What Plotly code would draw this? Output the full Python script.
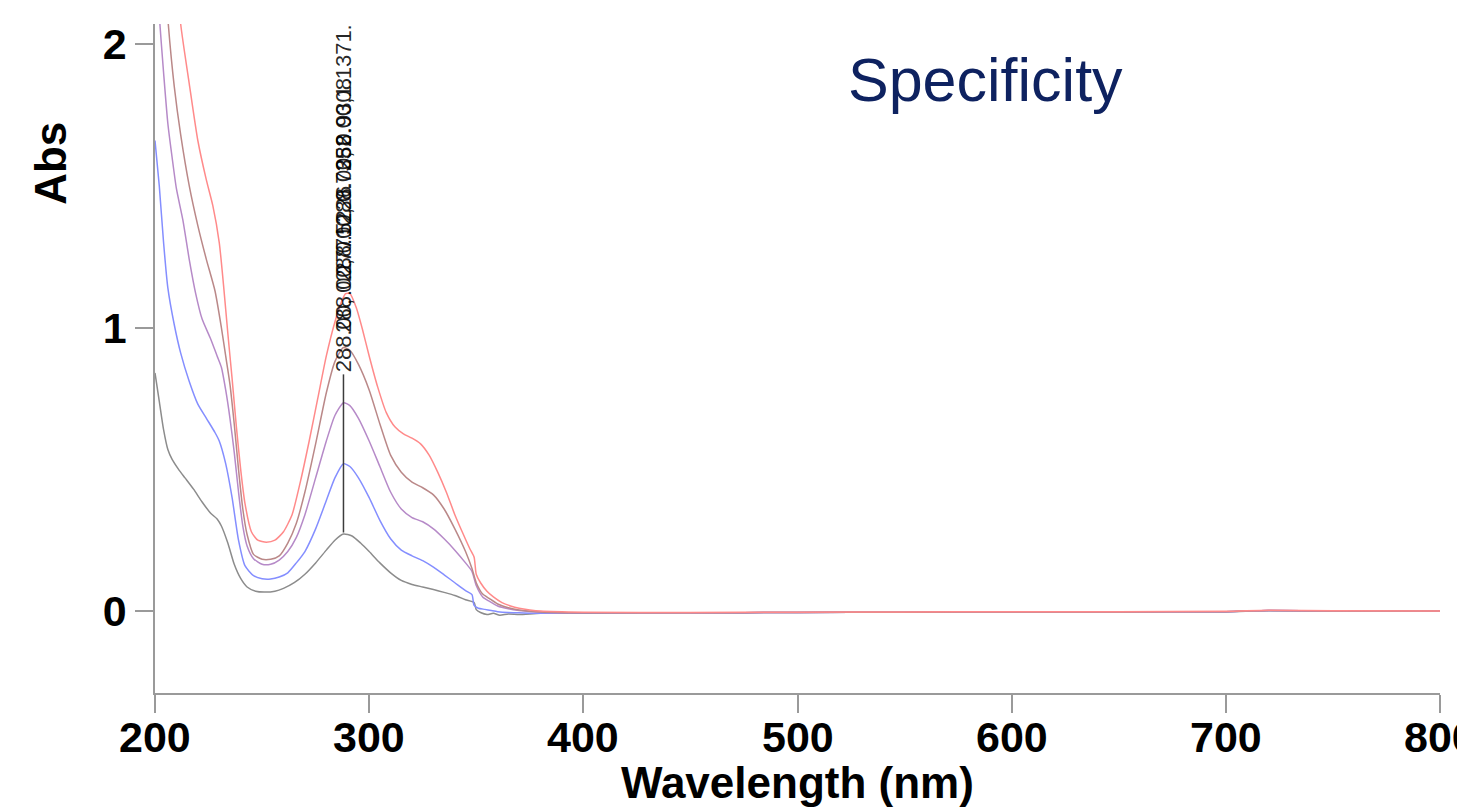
import plotly.graph_objects as go

# ---------------- data ----------------
grey_wl = [200, 202, 204, 206, 208, 211, 214, 218, 222, 226, 229, 231, 234, 237, 240, 243, 247, 251, 256, 260,
           265, 270, 275, 280, 284, 288, 292, 296, 300, 305, 310, 315, 320, 325, 330, 335, 340, 345, 349,
           350, 352, 355, 358, 361, 365, 370, 380, 400, 450, 500, 550, 600, 650, 700, 720, 750, 800]
grey_abs = [0.84, 0.74, 0.64, 0.57, 0.535, 0.50, 0.47, 0.43, 0.385, 0.345, 0.325, 0.30, 0.24, 0.165, 0.115, 0.085,
            0.07, 0.067, 0.07, 0.08, 0.10, 0.13, 0.17, 0.215, 0.25, 0.272, 0.265, 0.24, 0.21, 0.17, 0.135, 0.108,
            0.094, 0.085, 0.076, 0.066, 0.055, 0.040, 0.030, 0.005, -0.005, -0.012, -0.008, -0.015, -0.010,
            -0.012, -0.008, -0.008, -0.006, -0.005, -0.004, -0.003, -0.003, -0.002, 0.001, -0.001, 0.0]

blue_wl = [200, 202, 204, 206, 209, 212, 216, 220, 224, 228, 230, 233, 236, 239, 242, 246, 250, 254, 258, 262,
           266, 270, 275, 280, 284, 288, 291, 295, 300, 305, 310, 315, 320, 325, 330, 335, 340, 345, 348,
           349, 351, 354, 357, 360, 365, 370, 380, 400, 450, 500, 550, 600, 650, 700, 720, 750, 800]
blue_abs = [1.66, 1.50, 1.30, 1.14, 1.01, 0.91, 0.81, 0.73, 0.68, 0.63, 0.60, 0.52, 0.40, 0.25, 0.16, 0.125,
            0.114, 0.113, 0.12, 0.135, 0.17, 0.21, 0.29, 0.39, 0.47, 0.52, 0.51, 0.47, 0.40, 0.32, 0.255, 0.215,
            0.195, 0.178, 0.155, 0.128, 0.100, 0.072, 0.058, 0.020, 0.010, 0.006, 0.002, -0.002, -0.005,
            -0.006, -0.008, -0.006, -0.006, -0.005, -0.004, -0.003, -0.003, -0.002, 0.002, 0.0, 0.0]

purple_wl = [200, 202, 204, 206, 208, 210, 213, 216, 219, 222, 226, 229, 231, 233, 235, 237, 239, 241, 243, 246,
             250, 254, 258, 262, 266, 270, 275, 280, 284, 288, 291, 295, 300, 305, 310, 315, 320, 325, 330,
             335, 340, 345, 348, 350, 353, 356, 360, 365, 370, 380, 400, 450, 500, 550, 600, 650, 700, 720,
             750, 800]
purple_abs = [2.35, 2.10, 1.90, 1.72, 1.60, 1.49, 1.38, 1.24, 1.12, 1.03, 0.96, 0.90, 0.86, 0.78, 0.68, 0.56,
              0.42, 0.30, 0.23, 0.185, 0.165, 0.165, 0.18, 0.21, 0.26, 0.34, 0.47, 0.60, 0.69, 0.735, 0.725,
              0.68, 0.60, 0.51, 0.42, 0.36, 0.33, 0.315, 0.29, 0.255, 0.215, 0.17, 0.14, 0.09, 0.05, 0.035,
              0.018, 0.008, 0.002, -0.004, -0.006, -0.006, -0.005, -0.004, -0.003, -0.003, -0.002, 0.002,
              0.0, 0.0]

brown_wl = [200, 203, 206, 209, 212, 216, 220, 224, 228, 231, 233, 235, 237, 239, 241, 243, 246, 250, 254, 258,
            262, 266, 270, 275, 280, 284, 288, 291, 295, 300, 305, 310, 315, 320, 325, 330, 335, 340, 345,
            348, 350, 353, 356, 360, 365, 370, 380, 400, 450, 500, 550, 600, 650, 700, 720, 750, 800]
brown_abs = [2.90, 2.45, 2.09, 1.85, 1.68, 1.50, 1.36, 1.24, 1.13, 1.00, 0.90, 0.80, 0.66, 0.50, 0.36, 0.27,
             0.20, 0.183, 0.183, 0.195, 0.24, 0.31, 0.42, 0.59, 0.77, 0.88, 0.93, 0.92, 0.87, 0.78, 0.66,
             0.55, 0.49, 0.455, 0.435, 0.41, 0.36, 0.29, 0.21, 0.15, 0.10, 0.06, 0.045, 0.025, 0.012, 0.004,
             -0.003, -0.006, -0.006, -0.005, -0.004, -0.003, -0.003, -0.002, 0.002, 0.0, 0.0]

red_wl = [200, 203, 206, 209, 212, 216, 220, 224, 227, 230, 232, 234, 236, 238, 240, 242, 245, 248, 252, 256,
          260, 264, 268, 272, 276, 280, 284, 287, 289, 291, 294, 297, 300, 304, 308, 312, 316, 320, 324, 328,
          332, 336, 340, 344, 347, 349, 350, 352, 355, 358, 362, 366, 370, 375, 380, 400, 450, 500, 550, 600,
          650, 700, 720, 750, 800]
red_abs = [3.50, 3.10, 2.70, 2.35, 2.07, 1.86, 1.66, 1.52, 1.43, 1.30, 1.15, 0.98, 0.82, 0.65, 0.50, 0.38, 0.28,
           0.25, 0.243, 0.25, 0.28, 0.34, 0.46, 0.60, 0.75, 0.90, 1.02, 1.09, 1.12, 1.12, 1.07, 0.99, 0.90, 0.79,
           0.70, 0.65, 0.625, 0.61, 0.59, 0.55, 0.49, 0.42, 0.34, 0.27, 0.22, 0.19, 0.13, 0.10, 0.07, 0.05,
           0.03, 0.018, 0.010, 0.004, 0.0, -0.004, -0.005, -0.004, -0.003, -0.002, -0.002, -0.001, 0.003,
           0.001, 0.0]

series_names = ["Sample 1", "Sample 2", "Sample 3", "Sample 4", "Sample 5"]
series_wl = [grey_wl, blue_wl, purple_wl, brown_wl, red_wl]
series_abs = [grey_abs, blue_abs, purple_abs, brown_abs, red_abs]
series_colors = ["rgb(140,140,140)", "rgb(132,142,255)", "rgb(182,138,200)", "rgb(186,136,136)", "rgb(255,138,138)"]

peak_wl = [288.00, 288.00, 288.00, 288.00, 288.00]
peak_abs = [0.2771, 0.5226, 0.7352, 0.9308, 1.1371]
peak_labels = ["288.00, 0.2771", "288.00, 0.5226", "288.00, 0.7352", "288.00, 0.9308", "288.00,1.1371."]

x_ticks = [200, 300, 400, 500, 600, 700, 800]
y_ticks = [0, 1, 2]

# ---------------- figure ----------------
fig = go.Figure()
for name, wl, ab, col in zip(series_names, series_wl, series_abs, series_colors):
    fig.add_trace(go.Scatter(x=wl, y=ab, mode="lines", name=name,
                             line=dict(color=col, width=1.5, shape="spline", smoothing=0.6),
                             showlegend=False))

label_base = 0.835
label_steps = [0.0, 0.14, 0.32, 0.52, 0.71]
fig.add_shape(type="line", x0=peak_wl[0], x1=peak_wl[0], y0=peak_abs[0], y1=label_base,
              xref="x", yref="y", line=dict(color="rgb(60,60,60)", width=1.5))
for lab, step in zip(peak_labels, label_steps):
    fig.add_annotation(x=peak_wl[0], y=label_base + step, xref="x", yref="y", text=lab,
                       textangle=-90, showarrow=False, xanchor="center", yanchor="bottom",
                       font=dict(family="Liberation Sans, Arial", size=22, color="rgba(0,0,0,0.85)"))

axis_col = "#9a9a9a"
tick_font = dict(family="Liberation Sans, Arial", size=43, color="black", weight="bold")
fig.update_xaxes(range=[200, 800], tickvals=x_ticks, showticklabels=False,
                 showline=True, linecolor=axis_col, linewidth=1.5, ticks="outside", ticklen=18,
                 tickcolor=axis_col, tickwidth=1.5, showgrid=False, zeroline=False, automargin=False)
fig.update_yaxes(range=[-0.289, 2.071], tickvals=y_ticks, ticktext=[str(v) for v in y_ticks],
                 showline=True, linecolor=axis_col, linewidth=1.5, ticks="outside", ticklen=18,
                 tickcolor=axis_col, tickwidth=1.5, showgrid=False, zeroline=False, tickfont=tick_font,
                 ticklabeloverflow="allow", automargin=False)

# x tick labels (placed a little closer to the axis than Plotly's default)
for v in x_ticks:
    fig.add_annotation(text=str(v), x=v, xref="x", y=0, yref="paper", xanchor="center", yanchor="top",
                       yshift=-18, showarrow=False, font=tick_font)

fig.add_annotation(text="Abs", xref="paper", yref="paper", x=0, y=0.791, xanchor="center", yanchor="middle",
                   xshift=-104, textangle=-90, showarrow=False,
                   font=dict(family="Liberation Sans, Arial", size=44, color="black", weight="bold"))
fig.add_annotation(text="Wavelength (nm)", xref="paper", yref="paper", x=0.5, y=0, xanchor="center",
                   yanchor="top", yshift=-63, showarrow=False,
                   font=dict(family="Liberation Sans, Arial", size=44, color="black", weight="bold"))
fig.add_annotation(text="Specificity", xref="paper", yref="paper", x=0.646, y=0.916, xanchor="center",
                   yanchor="middle", showarrow=False,
                   font=dict(family="Liberation Sans, Arial", size=61, color="#0e2260"))

# page body has an 8px margin, so the figure is sized to fill the remaining window
fig.update_layout(width=1457, height=802, paper_bgcolor="white", plot_bgcolor="white",
                  margin=dict(l=146.5, r=25, t=15.5, b=117), showlegend=False)
fig.write_html("out.html")
